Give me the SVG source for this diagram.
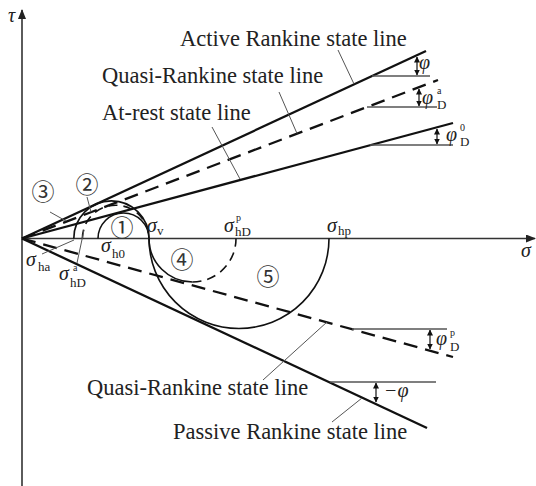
<svg xmlns="http://www.w3.org/2000/svg" width="536" height="486" viewBox="0 0 536 486">
<defs>
<marker id="ah" markerWidth="10" markerHeight="8" refX="9" refY="4" orient="auto" markerUnits="userSpaceOnUse">
<path d="M0,0 L10,4 L0,8 Z" fill="#222"/>
</marker>
<marker id="sa" markerWidth="6" markerHeight="6" refX="5.5" refY="3" orient="auto-start-reverse" markerUnits="userSpaceOnUse">
<path d="M0,0 L6,3 L0,6 Z" fill="#111"/>
</marker>
<style>
.ax{stroke:#333;stroke-width:1.6;fill:none}
.st{stroke:#111;stroke-width:2.3;fill:none}
.ds{stroke:#111;stroke-width:2.3;fill:none;stroke-dasharray:14 8}
.cr{stroke:#111;stroke-width:1.6;fill:none}
.cd{stroke:#111;stroke-width:1.6;fill:none;stroke-dasharray:9 6}
.ld{stroke:#555;stroke-width:1;fill:none}
.hz{stroke:#555;stroke-width:1.6;fill:none}
.da{stroke:#111;stroke-width:1.2;fill:none;marker-start:url(#sa);marker-end:url(#sa)}
.lb{font-family:"Liberation Serif",serif;font-size:22.5px;fill:#222}
.gk{font-family:"Liberation Serif",serif;font-size:20px;font-style:italic;fill:#222}
.sb{font-family:"Liberation Serif",serif;font-size:13px;fill:#222}
.sp{font-family:"Liberation Serif",serif;font-size:10px;fill:#222}
.cn{font-family:"Noto Sans CJK JP","DejaVu Sans",sans-serif;font-size:23px;fill:#333;text-anchor:middle}
</style>
</defs>

<g id="axes">
<line class="ax" x1="22" y1="486" x2="22" y2="10" marker-end="url(#ah)"/>
<line class="ax" x1="22" y1="238.5" x2="535" y2="238.5" marker-end="url(#ah)"/>
<text class="gk" x="8" y="22">τ</text>
<text class="gk" x="521" y="257">σ</text>
</g>

<g id="connectors">
<line id="active-line" class="st" x1="22" y1="238.5" x2="426" y2="51"/>
<line id="quasi-active-line" class="ds" x1="22" y1="238.5" x2="438" y2="80"/>
<line id="at-rest-line" class="st" x1="22" y1="238.5" x2="453" y2="123"/>
<line id="quasi-passive-line" class="ds" x1="22" y1="238.5" x2="453" y2="357"/>
<line id="passive-line" class="st" x1="22" y1="238.5" x2="427" y2="428"/>

<path id="circle3" class="cr" d="M73.8,238.5 A37.6,37.6 0 0 1 149,238.5"/>
<path id="circle2" class="cd" d="M82.4,238.5 A33.3,33.3 0 0 1 149,238.5"/>
<path id="circle1" class="cr" d="M98,238.5 A25.5,25.5 0 0 1 149,238.5"/>
<path id="circle5" class="cr" d="M149,238.5 A90,90 0 0 0 329,238.5"/>
<path id="circle4a" class="cr" d="M149,238.5 A43.5,43.5 0 0 0 192.5,282"/>
<path id="circle4b" class="cd" d="M192.5,282 A43.5,43.5 0 0 0 236,238.5"/>

<line class="ld" x1="338" y1="50" x2="354" y2="84"/>
<line class="ld" x1="279" y1="92" x2="297" y2="133.5"/>
<line class="ld" x1="212" y1="127" x2="240" y2="179"/>
<line class="ld" x1="263" y1="380" x2="327" y2="322"/>
<line class="ld" x1="332" y1="422" x2="362" y2="398"/>
<line class="ld" x1="50" y1="212" x2="66" y2="221"/>
<line class="ld" x1="87" y1="197" x2="91" y2="212"/>
<line class="ld" x1="42" y1="254" x2="74" y2="240"/>
<line class="ld" x1="77" y1="263" x2="84" y2="230"/>

<line class="hz" x1="372" y1="76" x2="430" y2="76"/>
<line class="hz" x1="367" y1="107" x2="437" y2="107"/>
<line class="hz" x1="370" y1="145" x2="453" y2="145"/>
<line class="hz" x1="352" y1="329" x2="447" y2="329"/>
<line class="hz" x1="330" y1="382" x2="436" y2="382"/>

<line class="da" x1="417" y1="57" x2="417" y2="75"/>
<line class="da" x1="419" y1="89" x2="419" y2="106"/>
<line class="da" x1="437" y1="129" x2="437" y2="144"/>
<line class="da" x1="430" y1="330" x2="430" y2="349"/>
<line class="da" x1="376" y1="383" x2="376" y2="402"/>
</g>

<g id="labels">
<text class="lb" x="180" y="46">Active Rankine state line</text>
<text class="lb" x="102" y="83">Quasi-Rankine state line</text>
<text class="lb" x="102" y="120">At-rest state line</text>
<text class="lb" x="87" y="395">Quasi-Rankine state line</text>
<text class="lb" x="173" y="439">Passive Rankine state line</text>
</g>

<g id="angle-labels">
<text class="gk" x="419" y="69">φ</text>
<text class="gk" x="422" y="104">φ</text><text class="sp" x="437" y="94">a</text><text class="sb" x="437" y="109">D</text>
<text class="gk" x="446" y="141">φ</text><text class="sp" x="460" y="131">0</text><text class="sb" x="460" y="146">D</text>
<text class="gk" x="436" y="345">φ</text><text class="sp" x="450" y="336">p</text><text class="sb" x="450" y="351">D</text>
<text class="gk" x="384" y="397">−φ</text>
</g>

<g id="stress-labels">
<text class="gk" x="26" y="266">σ</text><text class="sb" x="38" y="271">ha</text>
<text class="gk" x="59" y="280">σ</text><text class="sp" x="73" y="271">a</text><text class="sb" x="70" y="287">hD</text>
<text class="gk" x="101" y="252">σ</text><text class="sb" x="112" y="258">h0</text>
<text class="gk" x="147" y="232">σ</text><text class="sb" x="157" y="235">v</text>
<text class="gk" x="224" y="232">σ</text><text class="sp" x="236" y="221">p</text><text class="sb" x="235" y="236">hD</text>
<text class="gk" x="327" y="232">σ</text><text class="sb" x="338" y="235">hp</text>
</g>

<g id="n1"><text class="cn" x="122" y="236">①</text></g>
<g id="n2"><text class="cn" x="87" y="193">②</text></g>
<g id="n3"><text class="cn" x="43" y="200">③</text></g>
<g id="n4"><text class="cn" x="182" y="268">④</text></g>
<g id="n5"><text class="cn" x="268" y="285">⑤</text></g>
</svg>
